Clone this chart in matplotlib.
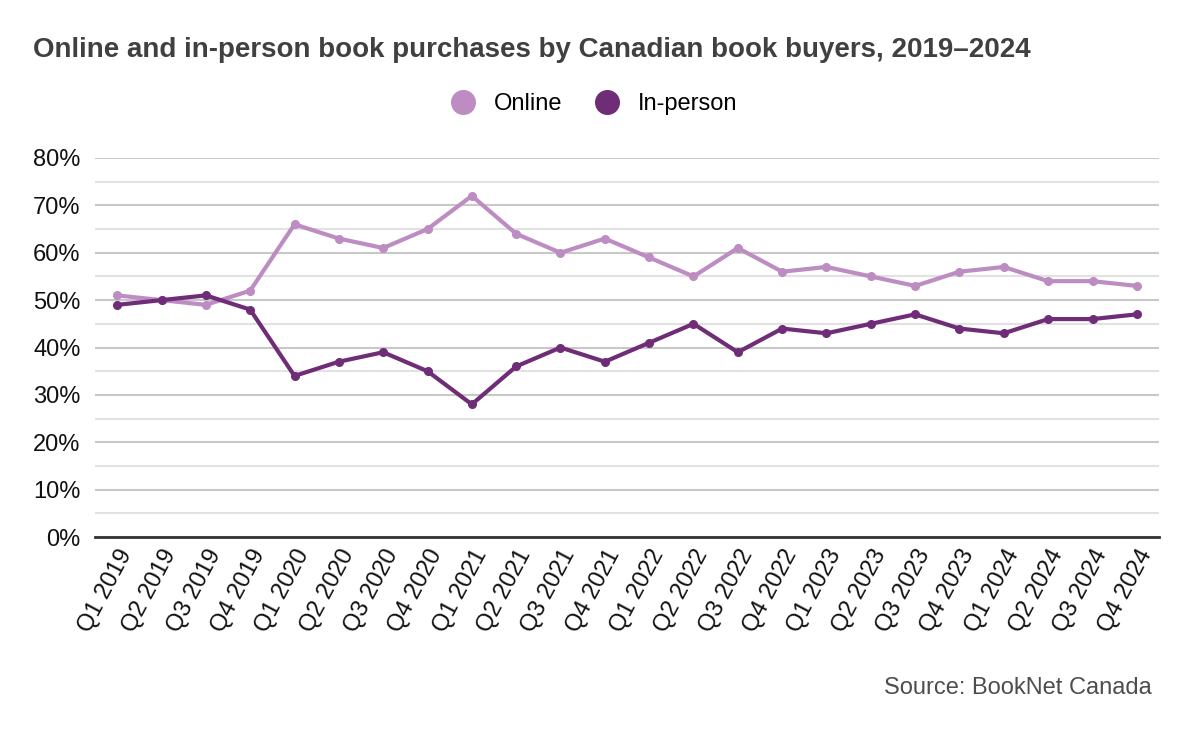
import matplotlib
matplotlib.use("Agg")
import matplotlib.pyplot as plt
from matplotlib.ticker import MultipleLocator, FuncFormatter
from matplotlib.lines import Line2D

quarters = ["Q1 2019", "Q2 2019", "Q3 2019", "Q4 2019",
            "Q1 2020", "Q2 2020", "Q3 2020", "Q4 2020",
            "Q1 2021", "Q2 2021", "Q3 2021", "Q4 2021",
            "Q1 2022", "Q2 2022", "Q3 2022", "Q4 2022",
            "Q1 2023", "Q2 2023", "Q3 2023", "Q4 2023",
            "Q1 2024", "Q2 2024", "Q3 2024", "Q4 2024"]
online = [51, 50, 49, 52, 66, 63, 61, 65, 72, 64, 60, 63,
          59, 55, 61, 56, 57, 55, 53, 56, 57, 54, 54, 53]
in_person = [49, 50, 51, 48, 34, 37, 39, 35, 28, 36, 40, 37,
             41, 45, 39, 44, 43, 45, 47, 44, 43, 46, 46, 47]

c_online = "#bd8cc2"
c_inperson = "#6f2d78"

plt.rcParams['font.family'] = ['Liberation Sans', 'DejaVu Sans']

fig = plt.figure(figsize=(11.87, 7.32), dpi=100)
ax = fig.add_axes([95/1187, 1-537/732, (1159-95)/1187, (537-158)/732])

x = list(range(len(quarters)))
ax.plot(x, online, color=c_online, lw=3, marker='o', ms=5.5, zorder=3)
ax.plot(x, in_person, color=c_inperson, lw=3, marker='o', ms=5.5, zorder=4)

ax.set_xlim(-0.5, len(quarters) - 0.5)
ax.set_ylim(0, 80)
ax.yaxis.set_major_locator(MultipleLocator(10))
ax.yaxis.set_minor_locator(MultipleLocator(5))
ax.yaxis.set_major_formatter(FuncFormatter(lambda v, p: f"{int(v)}%"))
ax.grid(axis='y', which='major', color='#c8c8c8', lw=1.5, zorder=0)
ax.grid(axis='y', which='minor', color='#e2e2e2', lw=1.5, zorder=0)
ax.set_axisbelow(True)

for s in ['top', 'right', 'left']:
    ax.spines[s].set_visible(False)
ax.spines['bottom'].set_color('#333333')
ax.spines['bottom'].set_linewidth(2)
ax.spines['bottom'].set_zorder(5)

ax.set_xticks(x)
ax.set_xticklabels(quarters, rotation=62, ha='right', rotation_mode='anchor')
ax.tick_params(axis='x', length=0, pad=6, labelsize=17, colors='#111111')
ax.tick_params(axis='y', which='both', length=0, pad=10.5, labelsize=17, colors='#111111')

fig.text(33/1187, 1-50/732, "Online and in-person book purchases by Canadian book buyers, 2019\u20132024",
         fontsize=20, fontweight='bold', color='#404040', va='center', ha='left')

handles = [Line2D([], [], ls='', marker='o', ms=17, color=c_online),
           Line2D([], [], ls='', marker='o', ms=17, color=c_inperson)]
fig.legend(handles, ["Online", "In-person"], loc='center', bbox_to_anchor=(593/1187, 1-104/732),
           ncol=2, frameon=False, fontsize=17, handletextpad=0.7, columnspacing=1.3,
           handlelength=1.2)

fig.text(1152/1187, 1-688/732, "Source: BookNet Canada", fontsize=17, color='#4d4d4d',
         ha='right', va='center')

fig.savefig("out.png", dpi=100, facecolor='white')
